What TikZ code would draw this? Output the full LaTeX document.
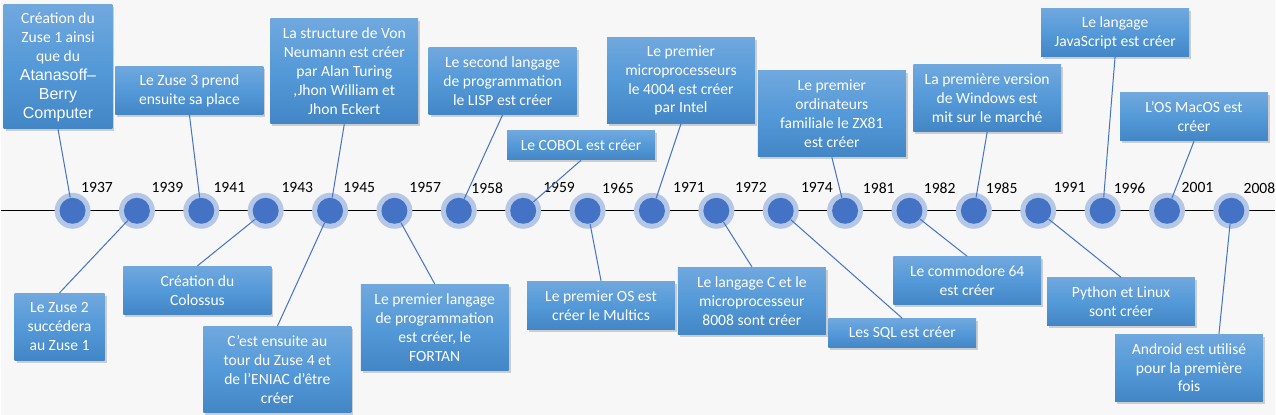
\documentclass[tikz,border=0pt]{standalone}
\usepackage{fontspec}
\setmainfont{Carlito}
\newfontfamily\arialfont{Liberation Sans}
\usetikzlibrary{shadows}
\definecolor{bgray}{HTML}{F7F7F7}
\definecolor{boxtop}{HTML}{70A8DE}
\definecolor{boxmid}{HTML}{5499D8}
\definecolor{boxbot}{HTML}{4386C6}
\definecolor{dotblue}{HTML}{4472C4}
\definecolor{ringblue}{HTML}{B4C7E7}
\newcommand\abcfont[1]{{\arialfont\fontsize{8pt}{9.5pt}\selectfont #1}}

\begin{document}
\begin{tikzpicture}[x=0.5pt, y=-0.5pt,
    event/.style={top color=boxtop, bottom color=boxbot, middle color=boxmid,
        text=white, align=center, minimum width=74pt, inner xsep=2pt, inner ysep=2.5pt,
        font=\fontsize{7.8pt}{9.5pt}\selectfont,
        drop shadow={shadow xshift=1pt, shadow yshift=-1.2pt, opacity=0.35}},
    nlines/.style={minimum height=#1*9.5pt+5pt},
    ring/.style={circle, fill=ringblue, minimum size=18pt, inner sep=0pt},
    dot/.style={circle, fill=dotblue, minimum size=13pt, inner sep=0pt},
    year/.style={font=\fontsize{7.8pt}{9.5pt}\selectfont, inner sep=0pt},
    link/.style={dotblue, line width=0.5pt}]
    \fill[bgray] (0, 0) rectangle (1276, 415);

    \coordinate (axisL) at (0, 211);
    \coordinate (axisR) at (1276, 211);
    \draw[line width=0.6pt] (axisL) -- (axisR);

    \foreach \yr/\yx [count=\i from 0] in {1937/96.5,1939/167,1941/229,1943/297,1945/359,1957/425,1958/487,1959/559,1965/618,1971/689,1972/751,1974/817,1981/879,1982/940,1985/1002,1991/1070,1996/1130,2001/1198,2008/1260} {
        \pgfmathsetmacro\x{72+64.44*\i}
        \node[ring] (ring\i) at (\x, 211) {};
        \node[dot] (dot\i) at (ring\i) {};
        \node[year] (yr\i) at (\yx, 188) {\yr};
    }

    \node[event, nlines=6, minimum width=54.5pt] (zuseA) at (57.5, 67) {Création du\\Zuse 1 ainsi\\que du\\\abcfont{Atanasoff–}\\\abcfont{Berry}\\\abcfont{Computer}};
    \node[event, nlines=2] (zuseC) at (189, 90.5) {Le Zuse 3 prend\\ensuite sa place};
    \node[event, nlines=5] (vonneumann) at (344, 71.5) {La structure de Von\\Neumann est créer\\par Alan Turing\\,Jhon William et\\Jhon Eckert};
    \node[event, nlines=3] (lisp) at (502.5, 81) {Le second langage\\de programmation\\le LISP est créer};
    \node[event, nlines=1] (cobol) at (581, 145.5) {Le COBOL est créer};
    \node[event, nlines=4] (intel) at (681, 80.5) {Le premier\\microprocesseurs\\le 4004 est créer\\par Intel};
    \node[event, nlines=4] (zxeightyone) at (832, 114) {Le premier\\ordinateurs\\familiale le ZX81\\est créer};
    \node[event, nlines=3] (windows) at (987.5, 98) {La première version\\de Windows est\\mit sur le marché};
    \node[event, nlines=2] (javascript) at (1115.5, 32.5) {Le langage\\JavaScript est créer};
    \node[event, nlines=2] (macos) at (1194.5, 117) {L’OS MacOS est\\créer};

    \node[event, nlines=3, minimum width=45pt] (zuseB) at (59, 327) {Le Zuse 2\\succédera\\au Zuse 1};
    \node[event, nlines=2] (colossus) at (197, 290.5) {Création du\\Colossus};
    \node[event, nlines=4] (eniac) at (277, 370) {C’est ensuite au\\tour du Zuse 4 et\\de l’ENIAC d’être\\créer};
    \node[event, nlines=4] (fortran) at (434.5, 327.5) {Le premier langage\\de programmation\\est créer, le\\FORTAN};
    \node[event, nlines=2] (multics) at (601, 305.5) {Le premier OS est\\créer le Multics};
    \node[event, nlines=3] (langc) at (752, 301) {Le langage C et le\\microprocesseur\\8008 sont créer};
    \node[event, nlines=1] (sql) at (902.5, 333.5) {Les SQL est créer};
    \node[event, nlines=2] (commodore) at (967.5, 281) {Le commodore 64\\est créer};
    \node[event, nlines=2] (python) at (1121.5, 302) {Python et Linux\\sont créer};
    \node[event, nlines=3] (android) at (1189.5, 368) {Android est utilisé\\pour la première\\fois};

    \draw[link] (zuseA.south) -- (dot0);
    \draw[link] (zuseB.north) -- (dot1);
    \draw[link] (zuseC.south) -- (dot2);
    \draw[link] (colossus.north) -- (dot3);
    \draw[link] (vonneumann.south) -- (dot4);
    \draw[link] (eniac.north) -- (dot4);
    \draw[link] (fortran.north) -- (dot5);
    \draw[link] (lisp.south) -- (dot6);
    \draw[link] (cobol.south) -- (dot7);
    \draw[link] (multics.north) -- (dot8);
    \draw[link] (intel.south) -- (dot9);
    \draw[link] (langc.north) -- (dot10);
    \draw[link] (sql.north) -- (dot11);
    \draw[link] (zxeightyone.south) -- (dot12);
    \draw[link] (commodore.north) -- (dot13);
    \draw[link] (windows.south) -- (dot14);
    \draw[link] (python.north) -- (dot15);
    \draw[link] (javascript.south) -- (dot16);
    \draw[link] (macos.south) -- (dot17);
    \draw[link] ([xshift=15pt]android.north) -- (dot18);
\end{tikzpicture}
\end{document}
